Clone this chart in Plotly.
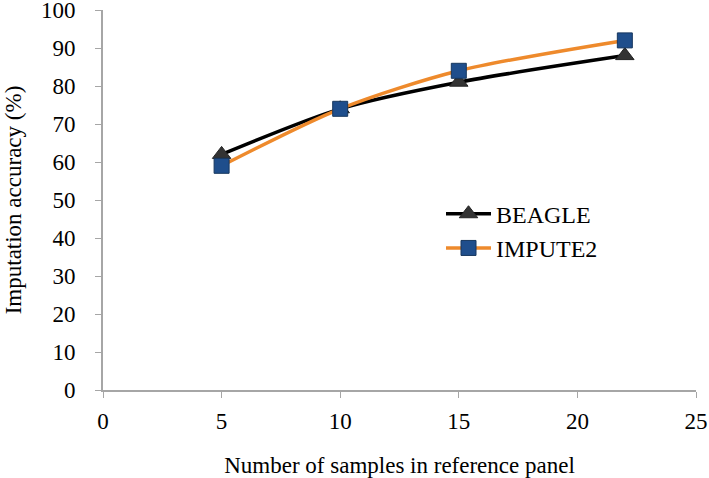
import plotly.graph_objects as go

samples = [5, 10, 15, 22]
beagle = [62, 74, 81, 88]
impute2 = [59, 74, 84, 92]
x_ticks = [0, 5, 10, 15, 20, 25]
y_ticks = list(range(0, 101, 10))

font_family = "Liberation Serif"
axis_color = "#a6a6a6"

fig = go.Figure()
fig.add_trace(go.Scatter(
    x=samples, y=beagle, name="BEAGLE", mode="lines+markers",
    line=dict(color="#000000", width=3.5, shape="spline", smoothing=0.8),
    marker=dict(symbol="triangle-up", size=16, color="#333333",
                line=dict(color="#222222", width=1)),
))
fig.add_trace(go.Scatter(
    x=samples, y=impute2, name="IMPUTE2", mode="lines+markers",
    line=dict(color="#EE8A2C", width=3.5, shape="spline", smoothing=0.8),
    marker=dict(symbol="square", size=15, color="#1F4E8C",
                line=dict(color="#17375E", width=1)),
))

fig.update_layout(
    width=709, height=478,
    margin=dict(l=103, r=13, t=10, b=88, autoexpand=False),
    paper_bgcolor="white", plot_bgcolor="white",
    font=dict(family=font_family, size=23, color="#000000"),
    showlegend=True,
    legend=dict(x=0.570, y=0.522, xanchor="left", yanchor="top",
                bgcolor="rgba(0,0,0,0)", font=dict(size=24),
                itemwidth=45),
    xaxis=dict(
        range=[0, 25], tickvals=x_ticks, ticks="outside", ticklen=6,
        tickcolor=axis_color, showline=True, linecolor=axis_color, linewidth=2,
        showgrid=False, zeroline=False, automargin=False,
        ticklabeloverflow="allow", ticklabelstandoff=3,
        tickfont=dict(size=23),
        title=dict(text="Number of samples in reference panel", font=dict(size=23), standoff=25),
    ),
    yaxis=dict(
        range=[0, 100], tickvals=y_ticks, ticks="outside", ticklen=6,
        tickcolor=axis_color, showline=True, linecolor=axis_color, linewidth=2,
        showgrid=False, zeroline=False, automargin=False,
        ticklabeloverflow="allow", ticklabelstandoff=15,
        tickfont=dict(size=23),
        title=dict(text="Imputation accuracy (%)", font=dict(size=23), standoff=13),
    ),
)

fig.write_html("out.html", config={"displayModeBar": False},
               post_script="document.body.style.margin='0px';")
